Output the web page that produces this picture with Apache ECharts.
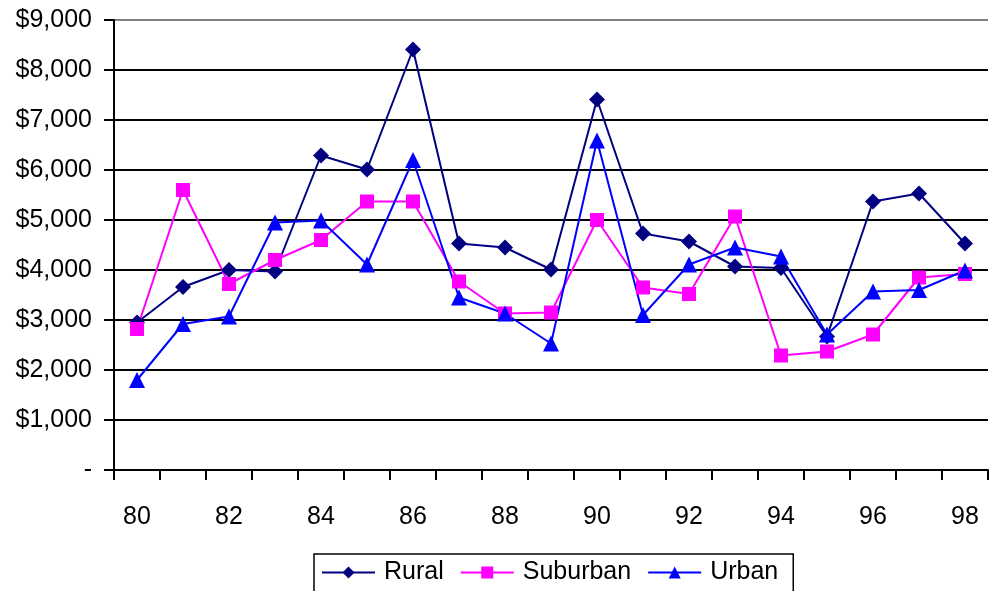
<!DOCTYPE html>
<html><head><meta charset="utf-8">
<script src="https://cdn.jsdelivr.net/npm/echarts@6/dist/echarts.min.js"></script>
<style>html,body{margin:0;padding:0;background:#fff}#c{width:989px;height:591px}</style>
</head><body><div id="c"></div>
<script>
const years = ['80','81','82','83','84','85','86','87','88','89','90','91','92','93','94','95','96','97','98'];
const rural = [2950,3660,4000,3970,6290,6010,8410,4530,4450,4010,7410,4730,4570,4070,4040,2670,5370,5530,4530];
const suburban = [2820,5600,3720,4200,4600,5370,5370,3770,3130,3150,5000,3650,3520,5070,2290,2370,2710,3850,3920];
const urban = [1800,2920,3070,4950,4990,4110,6200,3450,3130,2530,6590,3100,4110,4450,4270,2710,3570,3600,3990];

const font = 'Liberation Sans, Arial, sans-serif';
const chart = echarts.init(document.getElementById('c'));
function fmt(v){ return v === 0 ? '-' : '$' + v.toLocaleString('en-US'); }
const gridColors = ['#808080','#000','#000','#000','#000','#000','#000','#000','#000','#808080'];
chart.setOption({
  animation: false,
  grid: {left: 114, right: 1, top: 20, bottom: 121, containLabel: false},
  xAxis: {
    type: 'category', data: years, boundaryGap: true,
    axisLine: {lineStyle: {color: '#000', width: 2}},
    axisTick: {show: true, interval: 0, length: 10, lineStyle: {color: '#000', width: 2}},
    axisLabel: {interval: 1, color: '#000', fontFamily: font, fontSize: 25, margin: 35}
  },
  yAxis: {
    type: 'value', min: 0, max: 9000, interval: 1000,
    axisLine: {show: true, lineStyle: {color: '#000', width: 2}},
    axisTick: {show: true, length: 10, lineStyle: {color: '#000', width: 2}},
    axisLabel: {color: '#000', fontFamily: font, fontSize: 25, margin: 22, formatter: fmt},
    splitLine: {show: true, lineStyle: {color: gridColors, width: 2}}
  },
  legend: {
    left: 314, top: 554, itemGap: 16, itemWidth: 53, itemHeight: 15,
    padding: [6, 15, 12, 7],
    borderColor: '#000', borderWidth: 1.5,
    textStyle: {color: '#000', fontFamily: font, fontSize: 25, padding: [0,0,0,4]},
    data: ['Rural','Suburban','Urban']
  },
  series: [
    {name: 'Rural', type: 'line', data: rural, symbol: 'diamond', symbolSize: 16,
     lineStyle: {color: '#000080', width: 2}, itemStyle: {color: '#000080'}},
    {name: 'Suburban', type: 'line', data: suburban, symbol: 'rect', symbolSize: 14,
     lineStyle: {color: '#FF00FF', width: 2}, itemStyle: {color: '#FF00FF'}},
    {name: 'Urban', type: 'line', data: urban, symbol: 'triangle', symbolSize: 16,
     lineStyle: {color: '#0000FF', width: 2}, itemStyle: {color: '#0000FF'}}
  ]
});
</script></body></html>
